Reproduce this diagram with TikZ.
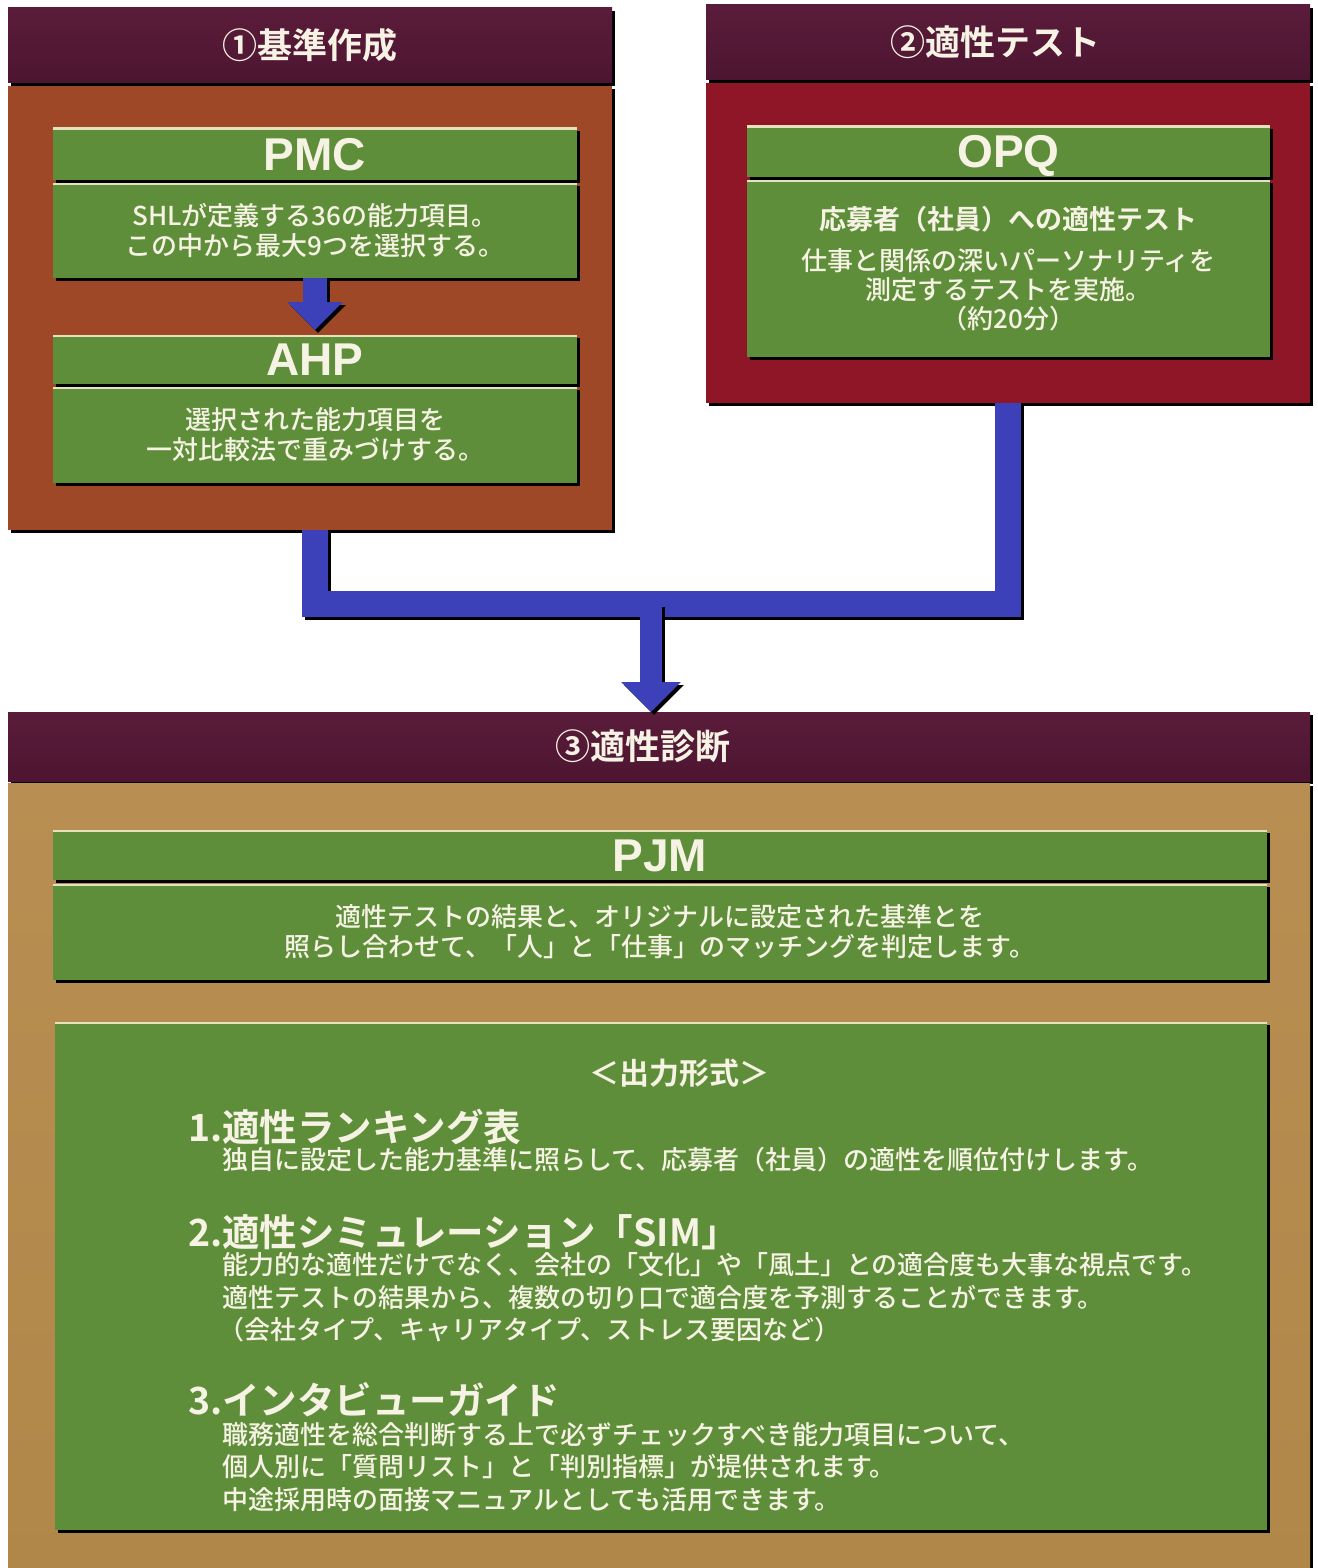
\documentclass[tikz,border=0pt]{standalone}
\usepackage{fontspec}
\setmainfont{Noto Sans CJK JP Medium}[BoldFont={Noto Sans CJK JP Bold}]
\newfontfamily\lat{Liberation Sans}
\usetikzlibrary{arrows.meta,shadows}
\definecolor{maroonc}{HTML}{4D1531}
\definecolor{maroontop}{HTML}{5A1C3A}
\definecolor{rustc}{HTML}{9E4827}
\definecolor{crimsonc}{HTML}{8E1627}
\definecolor{tanc}{HTML}{B08649}
\definecolor{tantop}{HTML}{B88E52}
\definecolor{greenc}{HTML}{5F8E3B}
\definecolor{bluec}{HTML}{3C41BA}
\definecolor{creamc}{HTML}{E6E2BE}
\definecolor{txtc}{HTML}{F6F3E4}
\begin{document}
\begin{tikzpicture}[x=1pt,y=-1pt,
  every node/.style={inner sep=0pt, outer sep=0pt, text=txtc},
  sh/.style={drop shadow={opacity=1,fill=black,shadow xshift=3pt,shadow yshift=-3pt}},
  hdr/.style={sh, anchor=north west, top color=maroontop, bottom color=maroonc, font=\bfseries\fontsize{35}{40}\selectfont},
  sect/.style={sh, anchor=north west},
  gbox/.style={sh, anchor=north west, fill=greenc,
    path picture={\draw[creamc,line width=4pt] (path picture bounding box.north west) -- (path picture bounding box.north east);}},
  ttl/.style={gbox, text height=32pt, text depth=0pt, font=\lat\bfseries\fontsize{46}{50}\selectfont},
  btxt/.style={gbox, align=center, font=\fontsize{26}{30}\selectfont},
  ihead/.style={anchor=west, font=\bfseries\fontsize{37.5}{40}\selectfont},
  idesc/.style={anchor=west, font=\fontsize{26}{30}\selectfont},
  pipe/.style={draw=bluec, line width=26pt, line join=miter},
  pipesh/.style={draw=black, line width=26pt, line join=miter, transform canvas={shift={(3pt,-3pt)}}},
  arr/.style={draw=bluec, line width=#1},
  arrsh/.style={draw=black, line width=#1, transform canvas={shift={(3pt,-3pt)}}}
]
\fill[white] (0,0) rectangle (1317,1568);
\useasboundingbox (0,0) rectangle (1317,1568);

% ---- Section 1
\node[hdr, minimum width=604, minimum height=75] (h1) at (8,8) {①基準作成};
\node[sect, fill=rustc, minimum width=604, minimum height=444] (b1) at (8,86) {};
\node[ttl, minimum width=524, minimum height=52] (pmch) at (53,128) {PMC};
\node[btxt, minimum width=524, minimum height=95] (pmct) at (53,183) {SHLが定義する36の能力項目。\\この中から最大9つを選択する。};
\node[ttl, minimum width=524, minimum height=49] (ahph) at (53,335) {AHP};
\node[btxt, minimum width=524, minimum height=96] (ahpt) at (53,387) {選択された能力項目を\\一対比較法で重みづけする。};

% ---- Section 2
\node[hdr, minimum width=604, minimum height=75] (h2) at (706,5) {②適性テスト\hspace*{26pt}};
\node[sect, fill=crimsonc, minimum width=604, minimum height=320] (b2) at (706,83) {};
\node[ttl, minimum width=523, minimum height=51] (opqh) at (747,126) {OPQ};
\node[btxt, minimum width=523, minimum height=177, font=\fontsize{26}{29}\selectfont] (opqt) at (747,180) {{\bfseries\fontsize{27}{32}\selectfont 応募者（社員）への適性テスト}\\[12pt]仕事と関係の深いパーソナリティを\\測定するテストを実施。\\（約20分）};

% ---- Section 3
\node[hdr, minimum width=1302, minimum height=69] (h3) at (8,712) {③適性診断\hspace*{32pt}};
\node[sect, top color=tantop, bottom color=tanc, minimum width=1302, minimum height=800] (b3) at (8,783) {};
\node[ttl, minimum width=1214, minimum height=50] (pjmh) at (53,830) {PJM};
\node[btxt, minimum width=1214, minimum height=96] (pjmt) at (53,884) {適性テストの結果と、オリジナルに設定された基準とを\\照らし合わせて、「人」と「仕事」のマッチングを判定します。};
\node[gbox, minimum width=1212, minimum height=508] (outb) at (55,1022) {};

\node[font=\bfseries\fontsize{30}{32}\selectfont] (ofmt) at (679,1073) {＜出力形式＞};
\node[ihead] (i1) at (188,1127) {1.適性ランキング表};
\node[idesc] (d1) at (222,1160) {独自に設定した能力基準に照らして、応募者（社員）の適性を順位付けします。};
\node[ihead] (i2) at (188,1232) {2.適性シミュレーション「SIM」};
\node[idesc] (d2a) at (222,1265) {能力的な適性だけでなく、会社の「文化」や「風土」との適合度も大事な視点です。};
\node[idesc] (d2b) at (222,1298) {適性テストの結果から、複数の切り口で適合度を予測することができます。};
\node[idesc] (d2c) at (218,1330) {（会社タイプ、キャリアタイプ、ストレス要因など）};
\node[ihead] (i3) at (188,1400) {3.インタビューガイド};
\node[idesc] (d3a) at (222,1435) {職務適性を総合判断する上で必ずチェックすべき能力項目について、};
\node[idesc] (d3b) at (222,1467) {個人別に「質問リスト」と「判別指標」が提供されます。};
\node[idesc] (d3c) at (222,1500) {中途採用時の面接マニュアルとしても活用できます。};

% ---- Connectors
\draw[arrsh=24pt, -{Triangle[width=54pt,length=28pt]}, shorten >=5pt] (pmct.south) -- (ahph.north);
\draw[arr=24pt, -{Triangle[width=54pt,length=28pt]}, shorten >=5pt, bluec] (pmct.south) -- (ahph.north);

\draw[pipesh] ([xshift=5pt]b1.south) -- ++(0,74) -| (b2.south);
\draw[pipe] ([xshift=5pt]b1.south) -- ++(0,74) -| (b2.south);

\coordinate (jn) at (651,604);
\draw[arrsh=22pt, -{Triangle[width=58pt,length=30pt]}] (jn) -- (jn |- h3.north);
\draw[arr=22pt, -{Triangle[width=58pt,length=30pt]}, bluec] (jn) -- (jn |- h3.north);
\end{tikzpicture}
\end{document}
